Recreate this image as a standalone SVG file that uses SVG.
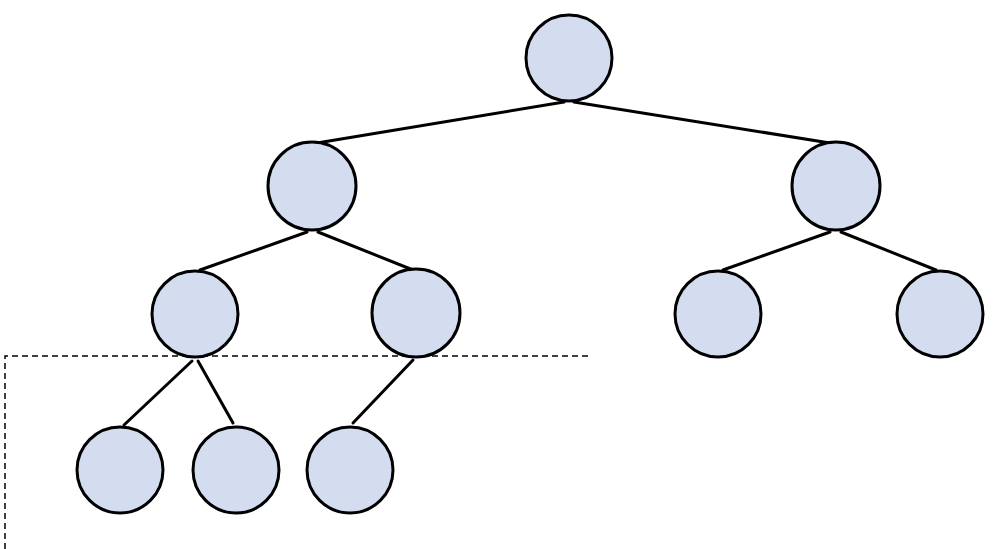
<svg xmlns="http://www.w3.org/2000/svg" width="993" height="549" viewBox="0 0 993 549">
<style>
.n{fill:#d4dcef;stroke:#000;stroke-width:3}
.e{stroke:#000;stroke-width:3;fill:none;stroke-linecap:round}
.d{stroke:#000;stroke-width:1.5;fill:none;stroke-dasharray:6 4}
</style>
<rect width="993" height="549" fill="#fff"/>
<g id="connectors">
<line class="e" x1="564" y1="102" x2="317" y2="143"/>
<line class="e" x1="574" y1="102" x2="830" y2="143"/>
<line class="e" x1="307" y1="232" x2="200" y2="270"/>
<line class="e" x1="318" y1="232" x2="413" y2="270"/>
<line class="e" x1="830" y1="232" x2="723" y2="270"/>
<line class="e" x1="841" y1="232" x2="936" y2="270"/>
<line class="e" x1="192" y1="361" x2="124" y2="425"/>
<line class="e" x1="198" y1="361" x2="233" y2="423"/>
<line class="e" x1="413" y1="360" x2="353" y2="423"/>
</g>
<path id="region" class="d" d="M588 356 H5 V549"/>
<g id="n0"><circle class="n" cx="569" cy="58" r="43"/></g>
<g id="n1"><circle class="n" cx="312" cy="186" r="44"/></g>
<g id="n2"><circle class="n" cx="836" cy="186" r="44"/></g>
<g id="n3"><circle class="n" cx="195" cy="314" r="43"/></g>
<g id="n4"><circle class="n" cx="416" cy="313" r="44"/></g>
<g id="n5"><circle class="n" cx="718" cy="314" r="43"/></g>
<g id="n6"><circle class="n" cx="940" cy="314" r="43"/></g>
<g id="n7"><circle class="n" cx="120" cy="470" r="43"/></g>
<g id="n8"><circle class="n" cx="236" cy="470" r="43"/></g>
<g id="n9"><circle class="n" cx="350" cy="470" r="43"/></g>
</svg>
